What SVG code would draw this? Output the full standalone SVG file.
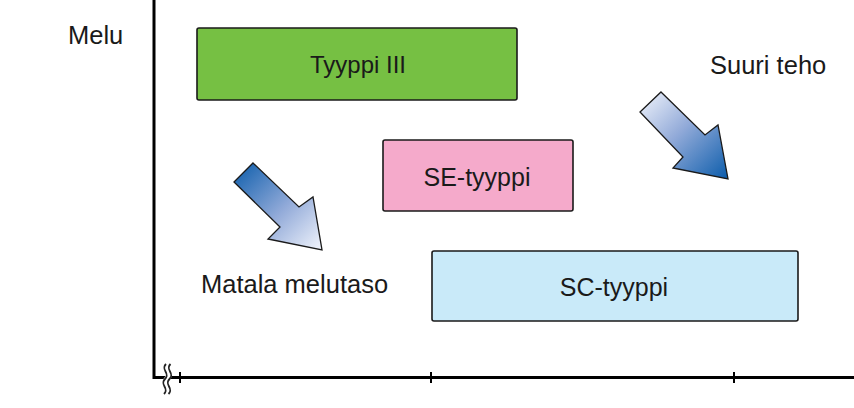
<svg xmlns="http://www.w3.org/2000/svg" width="854" height="408" viewBox="0 0 854 408">
  <style>
    .box { stroke: #1a1a1a; stroke-width: 1.6; }
    .lbl { font-family: "Liberation Sans", Arial, sans-serif; fill: #1a1a1a; }
    .boxtxt { font-size: 25px; text-anchor: middle; }
    .side { font-size: 25.5px; }
    .axis { stroke: #000; stroke-width: 3; fill: none; }
    .tick { stroke: #000; stroke-width: 2; }
    .arrow { stroke: #1a1a1a; stroke-width: 1.3; stroke-linejoin: miter; }
  </style>
  <defs>
    <linearGradient id="gDarkToLight" x1="0" y1="0" x2="1" y2="1">
      <stop offset="0" stop-color="#0b5cab"/>
      <stop offset="0.55" stop-color="#93abd9"/>
      <stop offset="1" stop-color="#f2f5fc"/>
    </linearGradient>
    <linearGradient id="gLightToDark" x1="0" y1="0" x2="1" y2="1">
      <stop offset="0" stop-color="#f2f5fc"/>
      <stop offset="0.45" stop-color="#93abd9"/>
      <stop offset="1" stop-color="#0b5cab"/>
    </linearGradient>
  </defs>
  <rect width="854" height="408" fill="#fff"/>

  <g id="axes">
    <polyline class="axis" points="154,0 154,377.5 854,377.5"/>
    <line class="tick" x1="180" y1="372" x2="180" y2="383"/>
    <line class="tick" x1="431" y1="372" x2="431" y2="383"/>
    <line class="tick" x1="734" y1="372" x2="734" y2="383"/>
    <g id="axis-break" fill="none">
      <path d="M168,364 c-6,6 5,9 -1,15 c-6,6 5,9 -1,15" stroke="#fff" stroke-width="6"/>
      <path d="M166,364 c-6,6 5,9 -1,15 c-6,6 5,9 -1,15" stroke="#222" stroke-width="1.8"/>
      <path d="M170.5,364 c-6,6 5,9 -1,15 c-6,6 5,9 -1,15" stroke="#222" stroke-width="1.8"/>
    </g>
  </g>

  <g id="node-tyyppi3">
    <rect class="box" x="197" y="28" width="320" height="72" rx="2" fill="#76c043"/>
    <text class="lbl boxtxt" x="358" y="73" style="font-size:24px">Tyyppi III</text>
  </g>

  <g id="node-se">
    <rect class="box" x="383" y="140" width="190" height="71" rx="2" fill="#f5aacb"/>
    <text class="lbl boxtxt" x="477" y="186">SE-tyyppi</text>
  </g>

  <g id="node-sc">
    <rect class="box" x="432" y="251" width="366" height="70" rx="2" fill="#c9eaf9"/>
    <text class="lbl boxtxt" x="614" y="296">SC-tyyppi</text>
  </g>

  <g id="label-melu">
    <text class="lbl side" x="68" y="44">Melu</text>
  </g>
  <g id="label-suuri-teho">
    <text class="lbl side" x="710" y="74">Suuri teho</text>
  </g>
  <g id="label-matala">
    <text class="lbl side" x="201" y="293">Matala melutaso</text>
  </g>

  <g id="connectors">
    <polygon id="arrow-matala" class="arrow" fill="url(#gDarkToLight)" points="253,163 299,207 313,197 322,250 268,239 280,227 234,182"/>
    <polygon id="arrow-suuri" class="arrow" fill="url(#gLightToDark)" points="661,92 705,135 718,125 728,179 673,168 683,157 640,112"/>
  </g>
</svg>
